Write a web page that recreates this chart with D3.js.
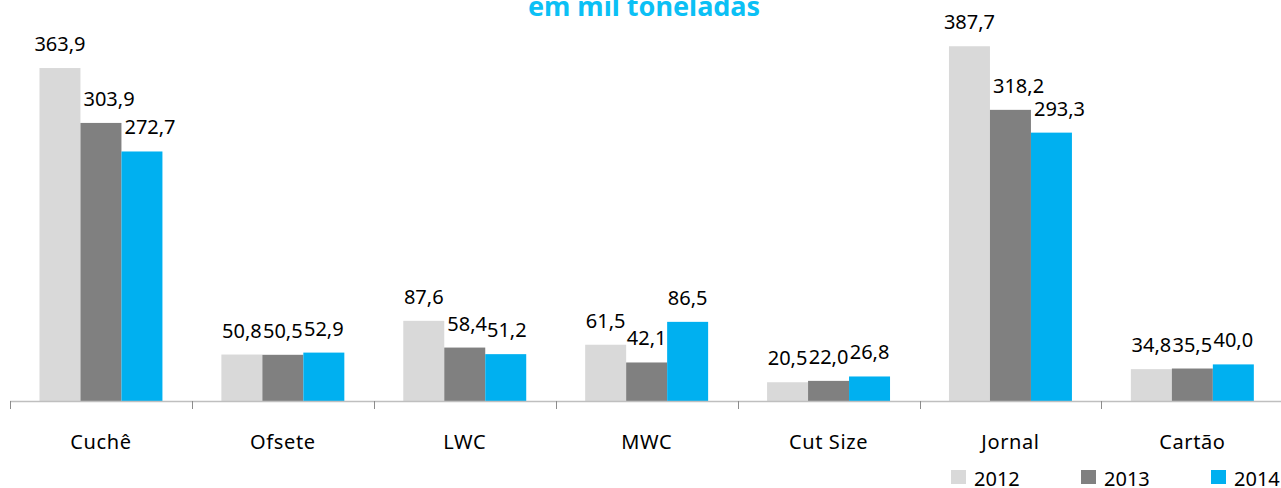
<!DOCTYPE html>
<html>
<head>
<meta charset="utf-8">
<script src="https://cdn.jsdelivr.net/npm/d3@7"></script>
<style>
  body { margin: 0; background: #fff; }
  text { font-family: "Noto Sans", "Open Sans", sans-serif; fill: #000; }
</style>
</head>
<body>
<div id="chart"></div>
<script>
var categories = ["Cuchê", "Ofsete", "LWC", "MWC", "Cut Size", "Jornal", "Cartão"];
var years = ["2012", "2013", "2014"];
var values2012 = [363.9, 50.8, 87.6, 61.5, 20.5, 387.7, 34.8];
var values2013 = [303.9, 50.5, 58.4, 42.1, 22.0, 318.2, 35.5];
var values2014 = [272.7, 52.9, 51.2, 86.5, 26.8, 293.3, 40.0];
var titleText = "em mil toneladas";

var w = 1281, h = 488;
var axisY = 401;
var colors = d3.scaleOrdinal().domain(years).range(["#D9D9D9", "#808080", "#00B0F0"]);

var series = [values2012, values2013, values2014];
var rows = categories.map(function(c, i){
    return { cat: c, vals: years.map(function(y, j){ return { year: y, value: series[j][i] }; }) };
});

var svg = d3.select("#chart").append("svg").attr("width", w).attr("height", h);
svg.append("rect").attr("width", w).attr("height", h).attr("fill", "#fff");

var x0 = d3.scaleBand().domain(categories).range([10, 10 + 7 * 181.9]).paddingInner(0.324).paddingOuter(0.162);
var x1 = d3.scaleBand().domain(years).range([0, x0.bandwidth()]);
var yScale = d3.scaleLinear().domain([0, 400]).range([axisY, 35]);

// title (partly cut at the top like the original)
svg.append("text").attr("x", 644).attr("y", 16).attr("text-anchor", "middle")
    .style("font-size", "27px").style("font-weight", "bold").style("fill", "#0BC0F5")
    .text(titleText);

// bars
var groups = svg.selectAll("g.grp").data(rows).enter().append("g").attr("class", "grp")
    .attr("transform", function(d){ return "translate(" + x0(d.cat) + ",0)"; });

groups.selectAll("rect").data(function(d){ return d.vals; }).enter().append("rect")
    .attr("x", function(d){ return x1(d.year); })
    .attr("y", function(d){ return yScale(d.value); })
    .attr("width", x1.bandwidth())
    .attr("height", function(d){ return axisY - yScale(d.value); })
    .attr("fill", function(d){ return colors(d.year); });

// axis line + boundary ticks
svg.append("line").attr("x1", 10).attr("x2", w).attr("y1", axisY + 0.5).attr("y2", axisY + 0.5)
    .attr("stroke", "#BFBFBF").attr("stroke-width", 1.5);
d3.range(categories.length + 1).forEach(function(i){
    var tx = Math.round(10 + i * x0.step()) + 0.5;
    svg.append("line").attr("x1", tx).attr("x2", tx).attr("y1", axisY).attr("y2", axisY + 8)
        .attr("stroke", "#8C8C8C").attr("stroke-width", 1);
});

// category labels
var xAxis = d3.axisBottom(x0).tickSize(0).tickPadding(0);
var ax = svg.append("g").attr("transform", "translate(0," + axisY + ")").call(xAxis);
ax.select(".domain").remove();
ax.selectAll("text").attr("dy", null).attr("y", 48)
    .style("font-size", "20px").style("letter-spacing", "0.6px").style("font-family", "\"Noto Sans\", sans-serif").attr("fill", "#000");

// value labels, nudged right when they would sit on a taller neighbour
groups.each(function(g){
    var grp = d3.select(this);
    var prev = null;
    g.vals.forEach(function(d, j){
        var cx = x1(d.year) + x1.bandwidth() / 2;
        var base = yScale(d.value) - 17;
        var t = grp.append("text").attr("y", base).style("font-size", "20px")
            .text(d3.format(".1f")(d.value).replace(".", ","));
        var tw = t.node().getComputedTextLength();
        var left = cx - tw / 2;
        if (j > 0) {
            var pv = g.vals[j - 1];
            var prevRight = x1(pv.year) + x1.bandwidth();
            if (yScale(pv.value) < base - 2 && left < prevRight + 3) left = prevRight + 3;
            if (prev && Math.abs(prev.base - base) < 14 && left < prev.right) left = prev.right;
        }
        t.attr("x", left);
        prev = { base: base, right: left + tw };
    });
});

// legend
var legend = svg.selectAll("g.leg").data(years).enter().append("g").attr("class", "leg")
    .attr("transform", function(d, i){ return "translate(" + (951 + i * 130) + ",470)"; });
legend.append("rect").attr("width", 15).attr("height", 14).attr("fill", function(d){ return colors(d); });
legend.append("text").attr("x", 23).attr("y", 16).style("font-size", "20px").text(function(d){ return d; });
</script>
</body>
</html>
